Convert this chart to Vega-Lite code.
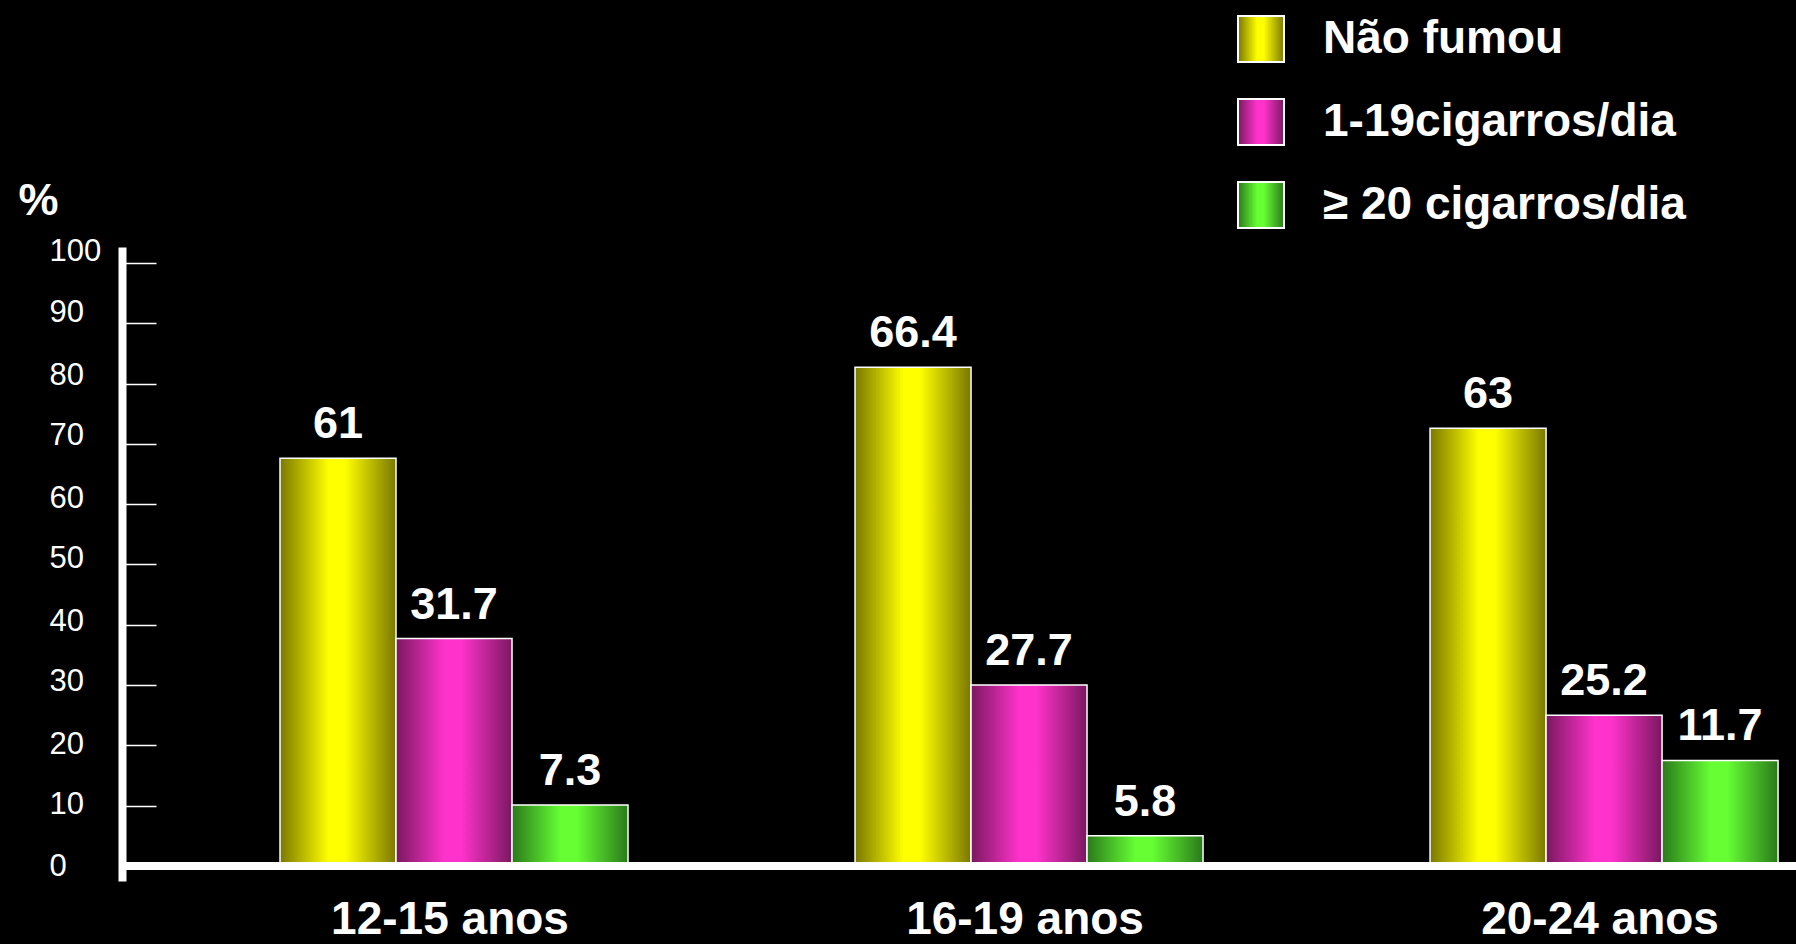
{
  "$schema": "https://vega.github.io/schema/vega-lite/v6.json",
  "width": 1674,
  "height": 634,
  "autosize": {"type": "none"},
  "padding": {"left": 122, "top": 247, "right": 0, "bottom": 63},
  "background": "#000000",
  "config": {"view": {"stroke": null}, "font": "Liberation Sans"},
  "data": {
    "values": [
      {"faixa": "12-15 anos", "grupo": "Não fumou", "altura": 67.6, "rotulo": "61"},
      {"faixa": "12-15 anos", "grupo": "1-19cigarros/dia", "altura": 37.7, "rotulo": "31.7"},
      {"faixa": "12-15 anos", "grupo": "≥ 20 cigarros/dia", "altura": 10.1, "rotulo": "7.3"},
      {"faixa": "16-19 anos", "grupo": "Não fumou", "altura": 82.7, "rotulo": "66.4"},
      {"faixa": "16-19 anos", "grupo": "1-19cigarros/dia", "altura": 30.0, "rotulo": "27.7"},
      {"faixa": "16-19 anos", "grupo": "≥ 20 cigarros/dia", "altura": 5.0, "rotulo": "5.8"},
      {"faixa": "20-24 anos", "grupo": "Não fumou", "altura": 72.6, "rotulo": "63"},
      {"faixa": "20-24 anos", "grupo": "1-19cigarros/dia", "altura": 25.0, "rotulo": "25.2"},
      {"faixa": "20-24 anos", "grupo": "≥ 20 cigarros/dia", "altura": 17.5, "rotulo": "11.7"}
    ]
  },
  "encoding": {
    "x": {
      "field": "faixa", "type": "nominal",
      "sort": ["12-15 anos", "16-19 anos", "20-24 anos"],
      "scale": {"paddingInner": 0.3948, "paddingOuter": 0.153, "align": 0.898},
      "axis": {
        "title": null, "domain": false, "ticks": false, "labelAngle": 0,
        "labelFontSize": 46, "labelFontWeight": "bold", "labelColor": "#ffffff",
        "labelFont": "Liberation Sans", "labelBaseline": "alphabetic",
        "labelPadding": 52, "labelOffset": -4, "labelLimit": 1000
      }
    },
    "xOffset": {
      "field": "grupo", "type": "nominal",
      "sort": ["Não fumou", "1-19cigarros/dia", "≥ 20 cigarros/dia"],
      "scale": {"domain": ["Não fumou", "1-19cigarros/dia", "≥ 20 cigarros/dia"], "paddingInner": 0, "paddingOuter": 0}
    },
    "y": {
      "field": "altura", "type": "quantitative",
      "scale": {"domain": [-2.5, 102.65], "nice": false, "zero": false},
      "axis": {
        "values": [0, 10, 20, 30, 40, 50, 60, 70, 80, 90, 100],
        "grid": false,
        "title": "%", "titleAngle": 0, "titleX": -84, "titleY": -33,
        "titleAlign": "center", "titleBaseline": "alphabetic",
        "titleFontSize": 45, "titleFontWeight": "bold", "titleColor": "#ffffff", "titleFont": "Liberation Sans",
        "domainColor": "#ffffff", "domainWidth": 8,
        "tickColor": "#ffffff", "tickWidth": 1.5, "tickSize": -34,
        "labelAlign": "left", "labelBaseline": "middle", "labelPadding": 107,
        "labelOffset": {
          "condition": [
            {"test": "datum.value >= 90", "value": -11},
            {"test": "datum.value >= 70", "value": -8.5},
            {"test": "datum.value >= 50", "value": -6},
            {"test": "datum.value >= 30", "value": -3.5},
            {"test": "datum.value >= 10", "value": -1}
          ],
          "value": 1
        },
        "labelFontSize": 31, "labelColor": "#ffffff", "labelFont": "Liberation Sans",
        "labelFlush": false, "labelOverlap": false
      }
    }
  },
  "layer": [
    {
      "transform": [{"filter": "datum.grupo === 'Não fumou'"}],
      "mark": {"type": "bar", "stroke": "#ffffff", "strokeWidth": 1.5,
               "color": {"gradient": "linear", "x1": 0, "y1": 0, "x2": 1, "y2": 0, "stops": [
                 {"offset": 0, "color": "#7a7800"}, {"offset": 0.42, "color": "#ffff00"},
                 {"offset": 0.56, "color": "#ffff00"}, {"offset": 1, "color": "#7a7800"}]}}
    },
    {
      "transform": [{"filter": "datum.grupo === '1-19cigarros/dia'"}],
      "mark": {"type": "bar", "stroke": "#ffffff", "strokeWidth": 1.5,
               "color": {"gradient": "linear", "x1": 0, "y1": 0, "x2": 1, "y2": 0, "stops": [
                 {"offset": 0, "color": "#7a1860"}, {"offset": 0.42, "color": "#ff33cc"},
                 {"offset": 0.56, "color": "#ff33cc"}, {"offset": 1, "color": "#7a1860"}]}}
    },
    {
      "transform": [{"filter": "datum.grupo === '≥ 20 cigarros/dia'"}],
      "mark": {"type": "bar", "stroke": "#ffffff", "strokeWidth": 1.5,
               "color": {"gradient": "linear", "x1": 0, "y1": 0, "x2": 1, "y2": 0, "stops": [
                 {"offset": 0, "color": "#2a7a1a"}, {"offset": 0.42, "color": "#66ff33"},
                 {"offset": 0.56, "color": "#66ff33"}, {"offset": 1, "color": "#2a7a1a"}]}}
    },
    {
      "mark": {"type": "point", "filled": true, "opacity": 0, "size": 1},
      "encoding": {
        "shape": {
          "field": "grupo", "type": "nominal",
          "scale": {
            "domain": ["Não fumou", "1-19cigarros/dia", "≥ 20 cigarros/dia"],
            "range": ["square", "square", "square"]
          },
          "legend": {
            "title": null, "orient": "none", "legendX": 1115, "legendY": -232,
            "direction": "vertical", "symbolSize": 2116, "symbolOpacity": 1,
            "symbolStrokeColor": "#ffffff", "symbolStrokeWidth": 2,
            "labelFontSize": 46, "labelFontWeight": "bold", "labelColor": "#ffffff",
            "labelFont": "Liberation Sans", "labelOffset": 38, "labelLimit": 1000,
            "rowPadding": 29, "padding": 0,
            "encoding": {
              "symbols": {
                "opacity": {"value": 1},
                "stroke": {"value": "#ffffff"},
                "strokeWidth": {"value": 2},
                "fill": {
                  "condition": [
                    {"test": "datum.value === 'Não fumou'", "value": {"gradient": "linear", "x1": 0, "y1": 0, "x2": 1, "y2": 0, "stops": [
                      {"offset": 0, "color": "#7a7800"}, {"offset": 0.42, "color": "#ffff00"},
                      {"offset": 0.56, "color": "#ffff00"}, {"offset": 1, "color": "#7a7800"}]}},
                    {"test": "datum.value === '1-19cigarros/dia'", "value": {"gradient": "linear", "x1": 0, "y1": 0, "x2": 1, "y2": 0, "stops": [
                      {"offset": 0, "color": "#7a1860"}, {"offset": 0.42, "color": "#ff33cc"},
                      {"offset": 0.56, "color": "#ff33cc"}, {"offset": 1, "color": "#7a1860"}]}}
                  ],
                  "value": {"gradient": "linear", "x1": 0, "y1": 0, "x2": 1, "y2": 0, "stops": [
                    {"offset": 0, "color": "#2a7a1a"}, {"offset": 0.42, "color": "#66ff33"},
                    {"offset": 0.56, "color": "#66ff33"}, {"offset": 1, "color": "#2a7a1a"}]}
                }
              }
            }
          }
        }
      }
    },
    {
      "mark": {"type": "text", "fontSize": 45, "fontWeight": "bold", "color": "#ffffff",
               "font": "Liberation Sans", "baseline": "alphabetic", "dy": -20},
      "encoding": {
        "text": {"field": "rotulo"}
      }
    },
    {
      "mark": {"type": "rule", "color": "#ffffff", "strokeWidth": 8},
      "encoding": {"y": {"datum": 0}, "x": null, "xOffset": null}
    }
  ]
}
